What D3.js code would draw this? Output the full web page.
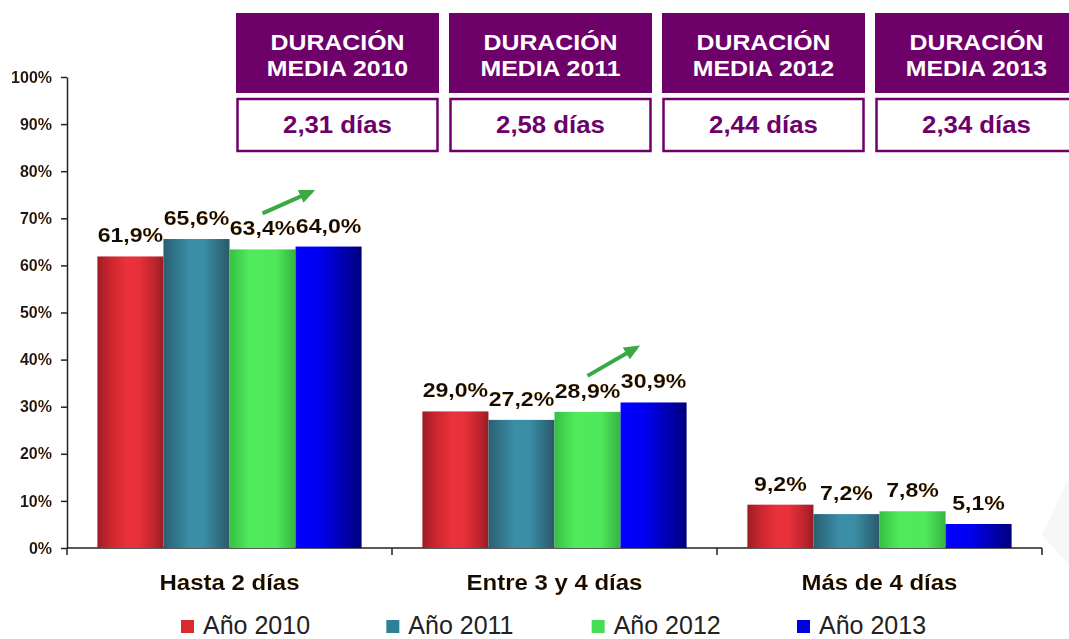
<!DOCTYPE html>
<html>
<head>
<meta charset="utf-8">
<script src="https://cdn.jsdelivr.net/npm/d3@7"></script>
<style>
  body { margin: 0; background: #fff; }
  svg { display: block; font-family: Arial, 'Liberation Sans', sans-serif; }
</style>
</head>
<body>
<div id="chart"></div>
<script>
// data
const categories = ['Hasta 2 días', 'Entre 3 y 4 días', 'Más de 4 días'];
const years = ['Año 2010', 'Año 2011', 'Año 2012', 'Año 2013'];
const values2010 = [61.9, 29.0, 9.2];
const values2011 = [65.6, 27.2, 7.2];
const values2012 = [63.4, 28.9, 7.8];
const values2013 = [64.0, 30.9, 5.1];
const yTicks = [0, 10, 20, 30, 40, 50, 60, 70, 80, 90, 100];
const durationYears = ['2010', '2011', '2012', '2013'];
const durationValues = ['2,31 días', '2,58 días', '2,44 días', '2,34 días'];
const arrowCategories = ['Hasta 2 días', 'Entre 3 y 4 días'];

const seriesValues = [values2010, values2011, values2012, values2013];
const rows = [];
categories.forEach((c, i) => {
    years.forEach((yr, j) => rows.push({ category: c, year: yr, value: seriesValues[j][i] }));
});

const W = 1069, H = 639;
const purple = '#6e006a';

const gradients = {
    'Año 2010': [['0%', '#9c1d25'], ['20%', '#cc262f'], ['45%', '#e9323a'], ['62%', '#e8303a'], ['85%', '#c2252e'], ['100%', '#981d24']],
    'Año 2011': [['0%', '#2a5f72'], ['40%', '#3a8fa7'], ['62%', '#3a8da5'], ['100%', '#2a586a']],
    'Año 2012': [['0%', '#37bf44'], ['30%', '#50ea5c'], ['70%', '#50e85b'], ['100%', '#35b342']],
    'Año 2013': [['0%', '#0000ff'], ['35%', '#0000f2'], ['100%', '#00007e']]
};
const legendColors = { 'Año 2010': '#d92a32', 'Año 2011': '#2f7f97', 'Año 2012': '#48de53', 'Año 2013': '#0000dd' };

const fmt = d3.formatLocale({ decimal: ',', thousands: '.', grouping: [3], currency: ['', '€'] }).format('.1f');

const svg = d3.select('#chart').append('svg')
    .attr('width', W)
    .attr('height', H);

const defs = svg.append('defs');
years.forEach((yr, i) => {
    const g = defs.append('linearGradient')
        .attr('id', 'grad' + i)
        .attr('x1', '0%').attr('x2', '100%').attr('y1', '0%').attr('y2', '0%');
    gradients[yr].forEach(s => g.append('stop').attr('offset', s[0]).attr('stop-color', s[1]));
});

const glow = defs.append('filter').attr('id', 'glow')
    .attr('x', '-10%').attr('y', '-20%').attr('width', '120%').attr('height', '140%');
glow.append('feDropShadow')
    .attr('dx', 0).attr('dy', 0).attr('stdDeviation', 0.6)
    .attr('flood-color', '#e8a040').attr('flood-opacity', 0.7);

defs.append('marker')
    .attr('id', 'arrowhead')
    .attr('markerUnits', 'userSpaceOnUse')
    .attr('markerWidth', 16).attr('markerHeight', 14)
    .attr('refX', 12).attr('refY', 7)
    .attr('orient', 'auto')
    .append('path')
    .attr('d', 'M0,0 L16,7 L0,14 Z')
    .attr('fill', '#3aa844');

// stretch text horizontally, the source picture is a bit wide
function stretch(sel, k) {
    sel.each(function () {
        const w = this.getComputedTextLength();
        d3.select(this).attr('textLength', w * k).attr('lengthAdjust', 'spacingAndGlyphs');
    });
}

// faint watermark on the right
svg.append('path')
    .attr('d', 'M1069,478 L1042,535 L1069,565 Z')
    .attr('fill', '#f7f7f7');

// scales
const x0 = d3.scaleBand()
    .domain(categories)
    .range([67, 1042])
    .paddingInner(0)
    .paddingOuter(0);

const x1 = d3.scaleBand()
    .domain(years)
    .range([0, x0.bandwidth()])
    .paddingInner(0)
    .paddingOuter(0.46);

const y = d3.scaleLinear()
    .domain([0, 100])
    .range([548, 77]);

// top boxes
const boxX = d3.scaleBand()
    .domain(durationYears)
    .range([236, 1078])
    .paddingInner(0.047);

const boxes = svg.append('g').selectAll('g')
    .data(durationYears)
    .enter().append('g')
    .attr('transform', d => `translate(${boxX(d)},0)`);

boxes.append('rect')
    .attr('x', 0).attr('y', 13)
    .attr('width', boxX.bandwidth()).attr('height', 80)
    .attr('fill', purple);

boxes.append('rect')
    .attr('x', 1.5).attr('y', 99)
    .attr('width', boxX.bandwidth() - 3).attr('height', 52)
    .attr('fill', '#fff')
    .attr('stroke', purple)
    .attr('stroke-width', 2.5);

const headText = boxes.append('text')
    .attr('x', boxX.bandwidth() / 2)
    .attr('text-anchor', 'middle')
    .attr('fill', '#fff')
    .attr('font-weight', 'bold')
    .attr('font-size', '22px');
headText.append('tspan').attr('x', boxX.bandwidth() / 2).attr('y', 50).text('DURACIÓN');
headText.append('tspan').attr('x', boxX.bandwidth() / 2).attr('y', 76).text(d => 'MEDIA ' + d);
stretch(headText.selectAll('tspan'), 1.13);

const valText = boxes.append('text')
    .attr('x', boxX.bandwidth() / 2)
    .attr('y', 133)
    .attr('text-anchor', 'middle')
    .attr('fill', purple)
    .attr('font-weight', 'bold')
    .attr('font-size', '23px')
    .text((d, i) => durationValues[i]);
stretch(valText, 1.12);

// y axis
const yAxis = svg.append('g')
    .attr('transform', 'translate(67,0)')
    .call(d3.axisLeft(y).tickValues(yTicks).tickSize(6).tickSizeOuter(0).tickPadding(9).tickFormat(d => d + '%'));
yAxis.select('.domain').attr('stroke', '#222').attr('stroke-width', 1.5);
yAxis.selectAll('.tick line').attr('stroke', '#222').attr('stroke-width', 1.5);
yAxis.selectAll('.tick text')
    .attr('font-family', "Arial, 'Liberation Sans', sans-serif")
    .attr('font-size', '16px')
    .attr('font-weight', 'bold')
    .attr('fill', '#121225')
    .attr('filter', 'url(#glow)');

// x axis
const xAxis = svg.append('g');
xAxis.append('line')
    .attr('x1', x0.range()[0]).attr('x2', x0.range()[1])
    .attr('y1', y(0)).attr('y2', y(0))
    .attr('stroke', '#222').attr('stroke-width', 1.5);
xAxis.selectAll('.xtick')
    .data(categories.map(c => x0(c)).concat([x0.range()[1]]))
    .enter().append('line')
    .attr('x1', d => d).attr('x2', d => d)
    .attr('y1', y(0)).attr('y2', y(0) + 7)
    .attr('stroke', '#222').attr('stroke-width', 1.5);

// bars
svg.append('g').selectAll('.bar')
    .data(rows)
    .enter().append('rect')
    .attr('class', 'bar')
    .attr('x', d => x0(d.category) + x1(d.year))
    .attr('y', d => y(d.value))
    .attr('width', x1.bandwidth())
    .attr('height', d => y(0) - y(d.value))
    .attr('fill', d => 'url(#grad' + years.indexOf(d.year) + ')');

// value labels
const labels = svg.append('g').selectAll('text')
    .data(rows)
    .enter().append('text')
    .attr('x', d => x0(d.category) + x1(d.year) + x1.bandwidth() / 2)
    .attr('y', d => y(d.value) - 14)
    .attr('text-anchor', 'middle')
    .attr('font-size', '21px')
    .attr('font-weight', 'bold')
    .attr('fill', '#111')
    .attr('filter', 'url(#glow)')
    .text(d => fmt(d.value) + '%');
stretch(labels, 1.1);

// trend arrows
svg.append('g').selectAll('line')
    .data(arrowCategories)
    .enter().append('line')
    .attr('x1', c => x0(c) + x1('Año 2012') + x1.bandwidth() / 2)
    .attr('y1', c => y(values2012[categories.indexOf(c)]) - 36)
    .attr('x2', c => x0(c) + x1('Año 2013') + x1.bandwidth() / 2 - 17)
    .attr('y2', c => y(values2013[categories.indexOf(c)]) - 55)
    .attr('stroke', '#3aa844')
    .attr('stroke-width', 4)
    .attr('marker-end', 'url(#arrowhead)');

// category labels
const catLabels = svg.append('g').selectAll('text')
    .data(categories)
    .enter().append('text')
    .attr('x', d => x0(d) + x0.bandwidth() / 2)
    .attr('y', 590)
    .attr('text-anchor', 'middle')
    .attr('font-size', '22px')
    .attr('font-weight', 'bold')
    .attr('fill', '#111')
    .attr('filter', 'url(#glow)')
    .text(d => d);
stretch(catLabels, 1.09);

// legend
const legendX = d3.scalePoint()
    .domain(years)
    .range([181, 797]);

const legend = svg.append('g').selectAll('g')
    .data(years)
    .enter().append('g')
    .attr('transform', d => `translate(${legendX(d)},0)`);

legend.append('rect')
    .attr('x', 0).attr('y', 620)
    .attr('width', 13).attr('height', 13)
    .attr('fill', d => legendColors[d]);

legend.append('text')
    .attr('x', 22)
    .attr('y', 634)
    .attr('font-size', '25px')
    .attr('fill', '#222')
    .text(d => d);
</script>
</body>
</html>
